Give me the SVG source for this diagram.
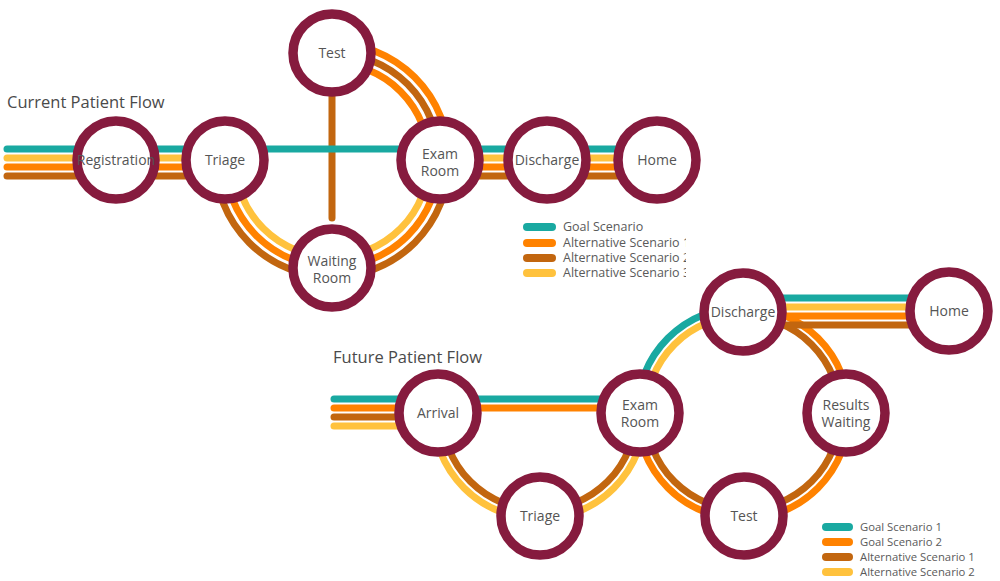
<svg xmlns="http://www.w3.org/2000/svg" width="1000" height="581" viewBox="0 0 1000 581">
  <style>
    .ln { fill: none; stroke-width: 7; }
    .cap { stroke-linecap: round; }
    .teal { stroke: #19a9a1; }
    .orange { stroke: #ff8200; }
    .brown { stroke: #c2660f; }
    .yellow { stroke: #ffc23d; }
    .stop { fill: #ffffff; stroke: #861b3e; stroke-width: 9.5; }
    .lbl { font-family: "Open Sans", "Noto Sans", sans-serif; font-size: 14px; fill: #555555; text-anchor: middle; }
    .title { font-family: "Open Sans", "Noto Sans", sans-serif; font-size: 16.5px; fill: #4a4a4a; }
    .key { stroke-width: 8; stroke-linecap: round; }
    .keytxt { font-family: "Open Sans", "Noto Sans", sans-serif; fill: #5a5a5a; }
  </style>
  <defs>
    <clipPath id="legendClip">
      <rect x="500" y="210" width="186" height="80"/>
    </clipPath>
  </defs>
  <rect width="1000" height="581" fill="#ffffff"/>

  <text class="title" x="7" y="108">Current Patient Flow</text>
  <text class="title" x="333" y="363">Future Patient Flow</text>

  <g id="connectors">
    <!-- current flow: arcs around the hub centred on (332,160) -->
    <path class="ln orange" d="M332,43 A117,117 0 0 1 449,160"/>
    <path class="ln brown" d="M332,53 A107,107 0 0 1 439,160"/>
    <path class="ln orange" d="M332,63 A97,97 0 0 1 429,160"/>
    <path class="ln brown" d="M215,160 A117,117 0 0 0 449,160"/>
    <path class="ln orange" d="M225,160 A107,107 0 0 0 439,160"/>
    <path class="ln yellow" d="M235,160 A97,97 0 0 0 429,160"/>
    <line class="ln brown cap" x1="332" y1="95" x2="332" y2="218" stroke-width="6"/>
    <!-- current flow: straight runs -->
    <line class="ln teal cap" x1="7" y1="149" x2="657" y2="149"/>
    <line class="ln yellow cap" x1="7" y1="158" x2="225" y2="158"/>
    <line class="ln orange cap" x1="7" y1="167" x2="225" y2="167"/>
    <line class="ln brown cap" x1="7" y1="176" x2="225" y2="176"/>
    <line class="ln yellow" x1="440" y1="158" x2="657" y2="158"/>
    <line class="ln orange" x1="440" y1="167" x2="657" y2="167"/>
    <line class="ln brown" x1="440" y1="176" x2="657" y2="176"/>

    <!-- future flow: triage detour centred on (539,413) -->
    <path class="ln yellow" d="M433,413 A106,106 0 0 0 645,413"/>
    <path class="ln brown" d="M442,413 A97,97 0 0 0 636,413"/>
    <!-- future flow: loop centred on (743,413) -->
    <path class="ln teal" d="M637,413 A106,106 0 0 1 743,307"/>
    <path class="ln yellow" d="M646,413 A97,97 0 0 1 743,316"/>
    <path class="ln orange" d="M637,413 A106,106 0 0 0 743,519"/>
    <path class="ln brown" d="M646,413 A97,97 0 0 0 743,510"/>
    <path class="ln orange" d="M743,519 A106,106 0 0 0 849,413"/>
    <path class="ln brown" d="M743,510 A97,97 0 0 0 840,413"/>
    <path class="ln orange" d="M849,413 A106,106 0 0 0 743,307"/>
    <path class="ln brown" d="M840,413 A97,97 0 0 0 743,316"/>
    <!-- future flow: straight runs -->
    <line class="ln teal cap" x1="334" y1="399" x2="640" y2="399"/>
    <line class="ln orange cap" x1="334" y1="408" x2="640" y2="408"/>
    <line class="ln brown cap" x1="334" y1="417" x2="438" y2="417"/>
    <line class="ln yellow cap" x1="334" y1="426" x2="438" y2="426"/>
    <line class="ln teal" x1="743" y1="298" x2="949" y2="298"/>
    <line class="ln yellow" x1="743" y1="307" x2="949" y2="307"/>
    <line class="ln orange" x1="743" y1="316" x2="949" y2="316"/>
    <line class="ln brown" x1="743" y1="325" x2="949" y2="325"/>
  </g>

  <!-- current flow stops -->
  <g id="cur-registration"><circle class="stop" cx="116" cy="160" r="39"/><text class="lbl" x="116" y="165" font-size="13.3">Registration</text></g>
  <g id="cur-triage"><circle class="stop" cx="225" cy="160" r="39"/><text class="lbl" x="225" y="165">Triage</text></g>
  <g id="cur-test"><circle class="stop" cx="332" cy="53" r="39"/><text class="lbl" x="332" y="58">Test</text></g>
  <g id="cur-exam"><circle class="stop" cx="440" cy="160" r="39"/><text class="lbl" x="440" y="159">Exam</text><text class="lbl" x="440" y="176">Room</text></g>
  <g id="cur-waiting"><circle class="stop" cx="332" cy="268" r="39"/><text class="lbl" x="332" y="266">Waiting</text><text class="lbl" x="332" y="283">Room</text></g>
  <g id="cur-discharge"><circle class="stop" cx="547" cy="160" r="39"/><text class="lbl" x="547" y="165">Discharge</text></g>
  <g id="cur-home"><circle class="stop" cx="657" cy="160" r="39"/><text class="lbl" x="657" y="165">Home</text></g>

  <!-- future flow stops -->
  <g id="fut-arrival"><circle class="stop" cx="438" cy="413" r="39"/><text class="lbl" x="438" y="418">Arrival</text></g>
  <g id="fut-exam"><circle class="stop" cx="640" cy="413" r="39"/><text class="lbl" x="640" y="410">Exam</text><text class="lbl" x="640" y="427">Room</text></g>
  <g id="fut-triage"><circle class="stop" cx="540" cy="516" r="39"/><text class="lbl" x="540" y="521">Triage</text></g>
  <g id="fut-test"><circle class="stop" cx="744" cy="516" r="39"/><text class="lbl" x="744" y="521">Test</text></g>
  <g id="fut-results"><circle class="stop" cx="846" cy="413" r="39"/><text class="lbl" x="846" y="410">Results</text><text class="lbl" x="846" y="427">Waiting</text></g>
  <g id="fut-discharge"><circle class="stop" cx="743" cy="312" r="39"/><text class="lbl" x="743" y="317">Discharge</text></g>
  <g id="fut-home"><circle class="stop" cx="949" cy="311" r="39"/><text class="lbl" x="949" y="316">Home</text></g>

  <!-- legends -->
  <g id="legend-current" clip-path="url(#legendClip)">
    <line class="key teal" x1="527" y1="227" x2="552" y2="227"/>
    <line class="key orange" x1="527" y1="243" x2="552" y2="243"/>
    <line class="key brown" x1="527" y1="258" x2="552" y2="258"/>
    <line class="key yellow" x1="527" y1="273" x2="552" y2="273"/>
    <text class="keytxt" x="563" y="231" font-size="12.5">Goal Scenario</text>
    <text class="keytxt" x="563" y="247" font-size="12.5">Alternative Scenario 1</text>
    <text class="keytxt" x="563" y="262" font-size="12.5">Alternative Scenario 2</text>
    <text class="keytxt" x="563" y="277" font-size="12.5">Alternative Scenario 3</text>
  </g>
  <g id="legend-future">
    <line class="key teal" x1="826" y1="527" x2="849" y2="527"/>
    <line class="key orange" x1="826" y1="542" x2="849" y2="542"/>
    <line class="key brown" x1="826" y1="557" x2="849" y2="557"/>
    <line class="key yellow" x1="826" y1="572" x2="849" y2="572"/>
    <text class="keytxt" x="860" y="531" font-size="11.3">Goal Scenario 1</text>
    <text class="keytxt" x="860" y="546" font-size="11.3">Goal Scenario 2</text>
    <text class="keytxt" x="860" y="561" font-size="11.3">Alternative Scenario 1</text>
    <text class="keytxt" x="860" y="576" font-size="11.3">Alternative Scenario 2</text>
  </g>
</svg>
